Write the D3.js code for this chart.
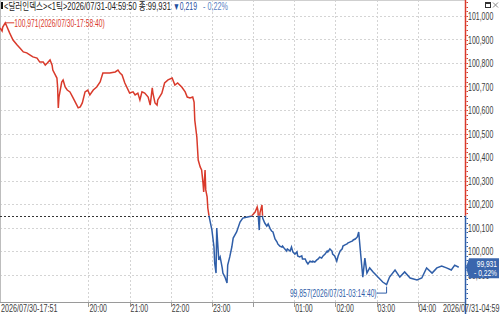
<!DOCTYPE html>
<html>
<head>
<meta charset="utf-8">
<script src="https://cdn.jsdelivr.net/npm/d3@7"></script>
<style>
  body { margin: 0; background: #fff; }
  svg { display: block; }
  text { font-family: "Liberation Sans", "Noto Sans CJK KR", sans-serif; }
</style>
</head>
<body>
<svg id="chart" width="500" height="314"></svg>
<script>
// tick data (time of day, price)
const times = [
  "17:51","17:54","17:55","17:58:40","18:05","18:10","18:16","18:20","18:25","18:30",
  "18:35","18:39","18:45","18:49","18:54","18:57","19:00","19:04","19:07","19:08",
  "19:14","19:15","19:16","19:17","19:21","19:23","19:26","19:29","19:33","19:37",
  "19:43","19:45","19:48","19:51","19:55","19:59","20:02","20:07","20:12","20:17",
  "20:21","20:27","20:31","20:39","20:43","20:46","20:49","20:53","21:00","21:05",
  "21:08","21:12","21:15","21:18","21:22","21:27","21:30","21:33","21:34","21:37",
  "21:40","21:41","21:47","21:51","21:56","22:02","22:06","22:10","22:16","22:21",
  "22:24","22:28","22:32","22:34","22:35","22:38","22:40","22:43","22:45","22:47",
  "22:48","22:50","22:51","22:53","22:54","22:56","23:00","23:03","23:04","23:06",
  "23:07","23:10","23:12","23:15","23:16","23:19","23:22","23:23","23:26","23:29",
  "23:31","23:36","23:41","23:45","23:52","23:58","00:03","00:06","00:07","00:09",
  "00:10","00:13","00:14","00:17","00:20","00:22","00:25","00:27","00:29","00:32",
  "00:35","00:36","00:39","00:42","00:43","00:46","00:49","00:50","00:54","00:56",
  "00:58","01:01","01:04","01:05","01:08","01:11","01:12","01:16","01:18","01:20",
  "01:23","01:26","01:27","01:30","01:33","01:35","01:37","01:40","01:42","01:45",
  "01:48","01:49","01:52","01:55","01:56","01:59","02:02","02:04","02:07","02:10",
  "02:11","02:14","02:17","02:18","02:21","02:25","02:26","02:29","02:32","02:34",
  "02:37","02:40","02:43","02:46","02:50","02:55","03:02","03:09","03:14:40","03:19",
  "03:27","03:34","03:41","03:49","03:59","04:06","04:13","04:21","04:28","04:35",
  "04:42","04:49","04:54","04:59:50"
];
const prices = [
  100.949,100.936,100.953,100.971,100.928,100.898,100.877,100.864,100.847,100.843,
  100.834,100.826,100.821,100.804,100.804,100.791,100.800,100.813,100.791,100.770,
  100.736,100.698,100.609,100.655,100.719,100.728,100.698,100.685,100.677,100.655,
  100.621,100.609,100.613,100.630,100.677,100.685,100.664,100.685,100.698,100.719,
  100.757,100.757,100.757,100.762,100.770,100.757,100.749,100.715,100.672,100.677,
  100.664,100.672,100.643,100.677,100.672,100.655,100.621,100.694,100.672,100.630,
  100.621,100.643,100.672,100.715,100.728,100.736,100.706,100.715,100.698,100.677,
  100.655,100.651,100.655,100.634,100.557,100.485,100.387,100.357,100.345,100.289,
  100.251,100.345,100.260,100.230,100.183,100.145,100.089,100.017,99.949,99.906,
  100.098,99.962,99.975,99.928,99.906,99.889,99.864,99.940,99.975,100.017,
  100.055,100.081,100.123,100.140,100.145,100.149,100.166,100.187,100.174,100.089,
  100.162,100.196,100.140,100.119,100.106,100.115,100.094,100.085,100.081,100.051,
  100.038,100.030,100.021,100.017,100.021,100.009,100.000,100.009,100.000,100.017,
  99.996,99.987,99.996,99.979,99.975,99.979,99.966,99.966,99.953,99.945,
  99.957,99.953,99.957,99.953,99.962,99.966,99.974,99.970,99.979,99.987,
  100.000,99.996,100.009,100.000,99.987,99.979,99.957,99.979,100.000,100.009,
  100.021,100.026,100.030,100.034,100.038,100.043,100.047,100.051,100.060,100.081,
  99.983,99.889,99.970,99.906,99.928,99.911,99.889,99.868,99.857,99.889,
  99.919,99.889,99.911,99.885,99.877,99.885,99.928,99.906,99.928,99.936,
  99.928,99.919,99.940,99.931
];

const prevClose = 100.150;
const yTicks = [101.0,100.9,100.8,100.7,100.6,100.5,100.4,100.3,100.2,100.1,100.0,99.9];
const xTicks = ["20:00","21:00","22:00","23:00","00:00","01:00","02:00","03:00","04:00"];
const xTickLabels = ["20:00","21:00","22:00","23:00","","01:00","02:00","03:00","04:00"];
const startLabel = "2026/07/30-17:51";
const endLabel = "2026/07/31-04:59";
const title = "<달러인덱스><1틱>2026/07/31-04:59:50 종:99,931";
const titleChange = "▼0,219";
const titlePct = "- 0,22%";
const maxLabel = "100,971(2026/07/30-17:58:40)";
const minLabel = "99,857(2026/07/31-03:14:40)";
const lastLabel = ["99,931", "- 0,22%"];

const RED = "#d93a2b", BLUE = "#2f5ea8", TXT = "#3c3c3c";

function toDate(t) {
  const p = t.split(":").map(Number);
  const day = p[0] >= 12 ? 30 : 31;
  return new Date(2026, 6, day, p[0], p[1], p[2] || 0);
}
const comma = v => d3.format(".3f")(v).replace(".", ",");

// squeeze text horizontally around its anchor point (narrow bitmap font in the original)
// f < 1 is a factor, f > 1 is a target width in px
function squeeze(sel, f) {
  sel.each(function() {
    const t = d3.select(this);
    const k = f > 1 ? f / this.getComputedTextLength() : f;
    t.attr("transform", `translate(${+t.attr("x")},${+t.attr("y")}) scale(${k},1)`)
      .attr("x", 0).attr("y", 0);
  });
}

const data = times.map((t, i) => ({ t: toDate(t), v: prices[i] }));

const W = 465, H = 302;
const svg = d3.select("#chart");

const x = d3.scaleTime()
  .domain([toDate("17:51"), toDate("05:09")])
  .range([0, W]);
const y = d3.scaleLinear().domain([99.9, 101.0]).range([274.5, 16]);

// grid
const grid = svg.append("g");
grid.selectAll(".hg").data(yTicks).enter().append("line")
  .attr("x1", 0).attr("x2", W)
  .attr("y1", d => Math.round(y(d)) + 0.5).attr("y2", d => Math.round(y(d)) + 0.5)
  .attr("stroke", "#d4d4d4").attr("stroke-dasharray", "2,2");
grid.selectAll(".vg").data(xTicks).enter().append("line")
  .attr("x1", d => Math.round(x(toDate(d))) + 0.5).attr("x2", d => Math.round(x(toDate(d))) + 0.5)
  .attr("y1", 0).attr("y2", H)
  .attr("stroke", "#d4d4d4").attr("stroke-dasharray", "2,2");

// frame
svg.append("line").attr("x1", 0).attr("x2", W).attr("y1", 0.5).attr("y2", 0.5).attr("stroke", "#cfcfcf");
svg.append("line").attr("x1", 0.5).attr("x2", 0.5).attr("y1", 0).attr("y2", H).attr("stroke", "#bdbdbd");
svg.append("line").attr("x1", 0).attr("x2", W).attr("y1", H + 0.5).attr("y2", H + 0.5).attr("stroke", "#9a9a9a");

// previous close
const yc = Math.round(y(prevClose)) + 0.5;
svg.append("line").attr("x1", 0).attr("x2", W).attr("y1", yc).attr("y2", yc)
  .attr("stroke", "#333").attr("stroke-dasharray", "2,2");

// line, red above previous close, blue below
const defs = svg.append("defs");
defs.append("clipPath").attr("id", "clipUp").append("rect")
  .attr("x", 0).attr("y", 0).attr("width", W).attr("height", y(prevClose));
defs.append("clipPath").attr("id", "clipDn").append("rect")
  .attr("x", 0).attr("y", y(prevClose)).attr("width", W).attr("height", H - y(prevClose));

const line = d3.line().x(d => x(d.t)).y(d => y(d.v));
svg.append("path").datum(data).attr("d", line).attr("fill", "none")
  .attr("stroke", RED).attr("stroke-width", 1.5).attr("clip-path", "url(#clipUp)");
svg.append("path").datum(data).attr("d", line).attr("fill", "none")
  .attr("stroke", BLUE).attr("stroke-width", 1.5).attr("clip-path", "url(#clipDn)");

// right axis
const ax = svg.append("g");
ax.append("line").attr("x1", W + 0.5).attr("x2", W + 0.5).attr("y1", 0).attr("y2", y(prevClose))
  .attr("stroke", RED).attr("stroke-width", 1.5);
ax.append("line").attr("x1", W + 0.5).attr("x2", W + 0.5).attr("y1", y(prevClose)).attr("y2", H + 12)
  .attr("stroke", BLUE).attr("stroke-width", 1.5);
const minor = d3.range(99.80, 101.07, 0.02);
ax.selectAll(".mt").data(minor).enter().append("line")
  .attr("x1", W + 1.5).attr("x2", W + 3)
  .attr("y1", d => Math.round(y(d)) + 0.5).attr("y2", d => Math.round(y(d)) + 0.5)
  .attr("stroke", d => d >= prevClose ? RED : BLUE);
ax.selectAll(".yl").data(yTicks).enter().append("text")
  .attr("x", W + 3).attr("y", d => y(d) + 4)
  .attr("font-size", 10).attr("fill", TXT)
  .text(d => comma(d))
  .call(squeeze, 0.7);

// bottom axis
const bx = svg.append("g");
bx.selectAll(".xt").data(xTicks).enter().append("line")
  .attr("x1", d => Math.round(x(toDate(d))) + 0.5).attr("x2", d => Math.round(x(toDate(d))) + 0.5)
  .attr("y1", H).attr("y2", H + 5).attr("stroke", "#999");
bx.selectAll(".xl").data(xTicks).enter().append("text")
  .attr("x", d => x(toDate(d)) + 1).attr("y", 311.5)
  .attr("font-size", 10).attr("fill", TXT)
  .text((d, i) => xTickLabels[i])
  .call(squeeze, 0.7);
bx.append("text").attr("x", 1).attr("y", 311.5).attr("font-size", 10).attr("fill", TXT)
  .text(startLabel).call(squeeze, 0.72);
bx.append("text").attr("x", 499.5).attr("y", 311.5).attr("text-anchor", "end")
  .attr("font-size", 10).attr("fill", TXT)
  .text(endLabel).call(squeeze, 0.72);

// max / min annotations
const hi = data[d3.maxIndex(data, d => d.v)];
const lo = data[d3.minIndex(data, d => d.v)];
const hx = x(hi.t), hy = y(hi.v);
svg.append("line").attr("x1", hx).attr("x2", hx + 9).attr("y1", hy).attr("y2", hy).attr("stroke", RED);
svg.append("text").attr("x", hx + 9).attr("y", hy + 4).attr("font-size", 10).attr("fill", RED)
  .text(maxLabel).call(squeeze, 0.67);
const lx = x(lo.t), ly = y(lo.v);
svg.append("path").attr("d", `M${lx},${ly + 2}V${ly + 8.5}H${lx - 10}`).attr("fill", "none").attr("stroke", BLUE);
svg.append("text").attr("x", lx - 10).attr("y", ly + 12.5).attr("text-anchor", "end")
  .attr("font-size", 10).attr("fill", BLUE)
  .text(minLabel).call(squeeze, 0.67);

// last price tag
const last = data[data.length - 1];
const ty = y(last.v);
svg.append("path")
  .attr("d", `M${W + 1},${ty} L${W + 4},${ty - 9} H499 V${ty + 11} H${W + 4} Z`)
  .attr("fill", "#3a66ad");
lastLabel.forEach((s, i) => {
  svg.append("text").attr("x", 497).attr("y", ty + i * 9).attr("text-anchor", "end")
    .attr("font-size", 9.5).attr("fill", "#fff").text(s)
    .call(squeeze, 0.7);
});

// header
svg.append("rect").attr("x", 1).attr("y", 2).attr("width", 2).attr("height", 7).attr("fill", "#111");
const head = svg.append("g").attr("font-size", 10);
head.append("text").attr("x", 4).attr("y", 9.5).attr("fill", "#222").text(title).call(squeeze, 167);
head.append("text").attr("x", 173).attr("y", 9.5).attr("fill", "#1f4fa0").text(titleChange).call(squeeze, 24);
head.append("text").attr("x", 203).attr("y", 9.5).attr("fill", "#5b84c4").text(titlePct).call(squeeze, 25);

// window buttons
svg.append("rect").attr("x", 485.5).attr("y", 2.5).attr("width", 5).attr("height", 5)
  .attr("fill", "#fff").attr("stroke", "#333");
svg.append("rect").attr("x", 485.5).attr("y", 2.5).attr("width", 5).attr("height", 1.5).attr("fill", "#333");
svg.append("path").attr("d", "M493,2.5 L498,7.5 M498,2.5 L493,7.5").attr("stroke", "#888");
</script>
</body>
</html>
